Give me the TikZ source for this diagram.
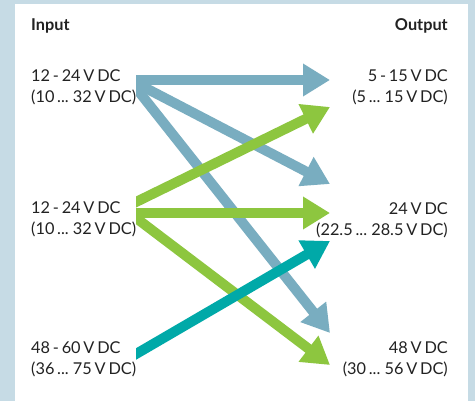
\documentclass[tikz,border=0pt]{standalone}
\usepackage{fontspec}
\setmainfont{Lato}
\usetikzlibrary{arrows.meta,calc}
\definecolor{bord}{HTML}{C6DBE5}
\definecolor{ablue}{HTML}{79ADC0}
\definecolor{agreen}{HTML}{8DC63F}
\definecolor{ateal}{HTML}{00A9A8}
\definecolor{txt}{HTML}{222222}
\newcommand{\lblfnt}{\fontsize{16.3}{21}\selectfont}
\newcommand{\tightsp}{\spaceskip=2.8pt plus 1pt\relax}
\begin{document}
\begin{tikzpicture}[x=1pt,y=-1pt,
  lbl/.style={font=\lblfnt, text=txt, inner sep=0pt, execute at begin node=\tightsp},
  lblin/.style={lbl, anchor=base west, align=left},
  lblout/.style={lbl, anchor=base east, align=right},
  head/.style={font=\lblfnt\bfseries, text=txt, inner sep=0pt},
  arr/.style={line width=10pt, -{Triangle[length=27pt,width=31pt]}}]
\useasboundingbox (0,0) rectangle (475,401);
\fill[bord] (0,0) rectangle (475,401);
\fill[white] (15,4) rectangle (468,401);

\node[head, anchor=base west] (hin) at (31,31) {Input};
\node[head, anchor=base east] (hout) at (448,31) {Output};

\node[lblin] (in1) at (31,103) {12 - 24 V DC\\(10 ... 32 V DC)};
\node[lblin] (in2) at (31,235) {12 - 24 V DC\\(10 ... 32 V DC)};
\node[lblin] (in3) at (31,375) {48 - 60 V DC\\(36 ... 75 V DC)};

\node[lblout] (out1) at (448,103) {5 - 15 V DC\\(5 ... 15 V DC)};
\node[lblout] (out2) at (448,236) {24 V DC\\(22.5 ... 28.5 V DC)};
\node[lblout] (out3) at (448,375) {48 V DC\\(30 ... 56 V DC)};

% arrow end points
\coordinate (b1s) at (136,80);  \coordinate (b1e) at (330,80);
\coordinate (b2s) at (136,83);  \coordinate (b2e) at (330,184);
\coordinate (b3s) at (136,88);  \coordinate (b3e) at (330,333);
\coordinate (g1s) at (136,202); \coordinate (g1e) at (330,107);
\coordinate (g2s) at (136,213); \coordinate (g2e) at (330,213);
\coordinate (g3s) at (136,218); \coordinate (g3e) at (330,365);
\coordinate (t1s) at (136,354); \coordinate (t1e) at (330,241);

\begin{scope}
\clip (136,0) rectangle (475,401);
\draw[arr, ablue] ($(b1s)!-12pt!(b1e)$) -- (b1e);
\draw[arr, ablue] ($(b2s)!-12pt!(b2e)$) -- (b2e);
\draw[arr, ablue] ($(b3s)!-12pt!(b3e)$) -- (b3e);
\draw[arr, agreen] ($(g1s)!-12pt!(g1e)$) -- (g1e);
\draw[arr, agreen] ($(g2s)!-12pt!(g2e)$) -- (g2e);
\draw[arr, agreen] ($(g3s)!-12pt!(g3e)$) -- (g3e);
\draw[arr, ateal] ($(t1s)!-12pt!(t1e)$) -- (t1e);
\end{scope}
\end{tikzpicture}
\end{document}
